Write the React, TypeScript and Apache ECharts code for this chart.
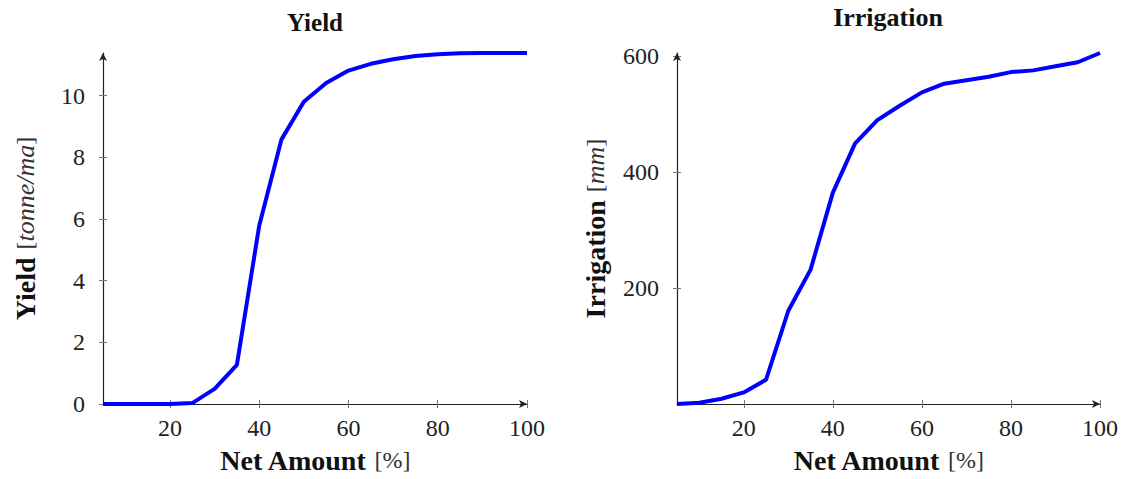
import React, { useEffect, useRef } from "react";
import * as echarts from "echarts";

const netAmount = [5, 10, 15, 20, 25, 30, 35, 40, 45, 50, 55, 60, 65, 70, 75, 80, 85, 90, 95, 100];
const yieldValues = [0, 0, 0, 0, 0.03, 0.49, 1.27, 5.78, 8.58, 9.8, 10.41, 10.81, 11.03, 11.18, 11.28, 11.34, 11.37, 11.38, 11.38, 11.38];
const irrigationValues = [0, 2, 9, 20, 42, 161, 232, 365, 450, 490, 515, 538, 553, 559, 565, 573, 576, 583, 590, 606];
const xTicks = [20, 40, 60, 80, 100];
const yieldTicks = [0, 2, 4, 6, 8, 10];
const irrigationTicks = [200, 400, 600];

const FONT = "'Liberation Serif', 'DejaVu Serif', serif";

export default function App() {
  const ref = useRef<HTMLDivElement>(null);
  useEffect(() => {
    const chart = echarts.init(ref.current!, null, { renderer: "svg" });
    const tickColor = "#777";
    const lineColor = "#222";
    const mkX = (gridIndex: number, main: boolean) => ({
      type: "value",
      gridIndex,
      position: "bottom",
      min: 5,
      max: 100,
      name: main ? "{b|Net Amount}{r|[%]}" : "",
      nameLocation: "middle",
      nameGap: 42,
      nameTextStyle: {
        rich: {
          b: { fontFamily: FONT, fontWeight: "bold", fontSize: 28, color: "#111", padding: [0, 8, 0, 0] },
          r: { fontFamily: FONT, fontSize: 24, color: "#333" },
        },
      },
      splitLine: { show: false },
      axisLine: main
        ? { show: true, onZero: false, symbol: ["none", "arrow"], symbolSize: [6, 8], lineStyle: { color: lineColor, width: 1.2 } }
        : { show: false, onZero: false },
      axisTick: { show: true, inside: !main, length: 4, customValues: xTicks, lineStyle: { color: tickColor } },
      axisLabel: {
        show: main,
        customValues: xTicks,
        fontFamily: FONT,
        fontSize: 24,
        color: "#222",
        margin: 12,
      },
    });
    const mkY = (gridIndex: number, main: boolean, max: number, ticks: number[], nameBold: string, unit: string, gap: number) => ({
      type: "value",
      gridIndex,
      position: "left",
      min: 0,
      max,
      name: main ? `{b|${nameBold}}{r|[}{i|${unit}}{r|]}` : "",
      nameLocation: "middle",
      nameGap: gap,
      nameTextStyle: {
        rich: {
          b: { fontFamily: FONT, fontWeight: "bold", fontSize: 28, color: "#111", padding: [0, 8, 0, 0] },
          r: { fontFamily: FONT, fontSize: 24, color: "#333" },
          i: { fontFamily: FONT, fontStyle: "italic", fontSize: 26, color: "#333" },
        },
      },
      splitLine: { show: false },
      axisLine: main
        ? { show: true, onZero: false, symbol: ["none", "arrow"], symbolSize: [6, 8], lineStyle: { color: lineColor, width: 1.2 } }
        : { show: false, onZero: false },
      axisTick: { show: true, inside: !main, length: 4, customValues: ticks, lineStyle: { color: tickColor } },
      axisLabel: {
        show: main,
        customValues: ticks,
        fontFamily: FONT,
        fontSize: 24,
        color: "#222",
        margin: 18,
      },
    });
    chart.setOption({
      animation: false,
      backgroundColor: "#fff",
      graphic: [
        { type: "text", x: 315, y: 22, style: { text: "Yield", font: `bold 25px ${FONT}`, fill: "#111", textAlign: "center", textVerticalAlign: "middle" } },
        { type: "text", x: 888, y: 17, style: { text: "Irrigation", font: `bold 26px ${FONT}`, fill: "#111", textAlign: "center", textVerticalAlign: "middle" } },
      ],
      grid: [
        { left: 103, right: 601, top: 53, bottom: 74 },
        { left: 677, right: 28, top: 53, bottom: 74 },
      ],
      xAxis: [mkX(0, true), mkX(0, false), mkX(1, true), mkX(1, false)],
      yAxis: [
        mkY(0, true, 11.38, yieldTicks, "Yield", "tonne/ma", 64),
        mkY(0, false, 11.38, yieldTicks, "", "", 0),
        mkY(1, true, 606, irrigationTicks, "Irrigation", "mm", 68),
        mkY(1, false, 606, irrigationTicks, "", "", 0),
      ],
      series: [
        {
          type: "line",
          xAxisIndex: 0,
          yAxisIndex: 0,
          data: netAmount.map((x, i) => [x, yieldValues[i]]),
          showSymbol: false,
          lineStyle: { color: "#0000ff", width: 4 },
          z: 5,
        },
        {
          type: "line",
          xAxisIndex: 2,
          yAxisIndex: 2,
          data: netAmount.map((x, i) => [x, irrigationValues[i]]),
          showSymbol: false,
          lineStyle: { color: "#0000ff", width: 4 },
          z: 5,
        },
      ],
    });
    return () => chart.dispose();
  }, []);
  return <div ref={ref} style={{ width: 1128, height: 479, position: "absolute", left: 0, top: 0 }} />;
}
